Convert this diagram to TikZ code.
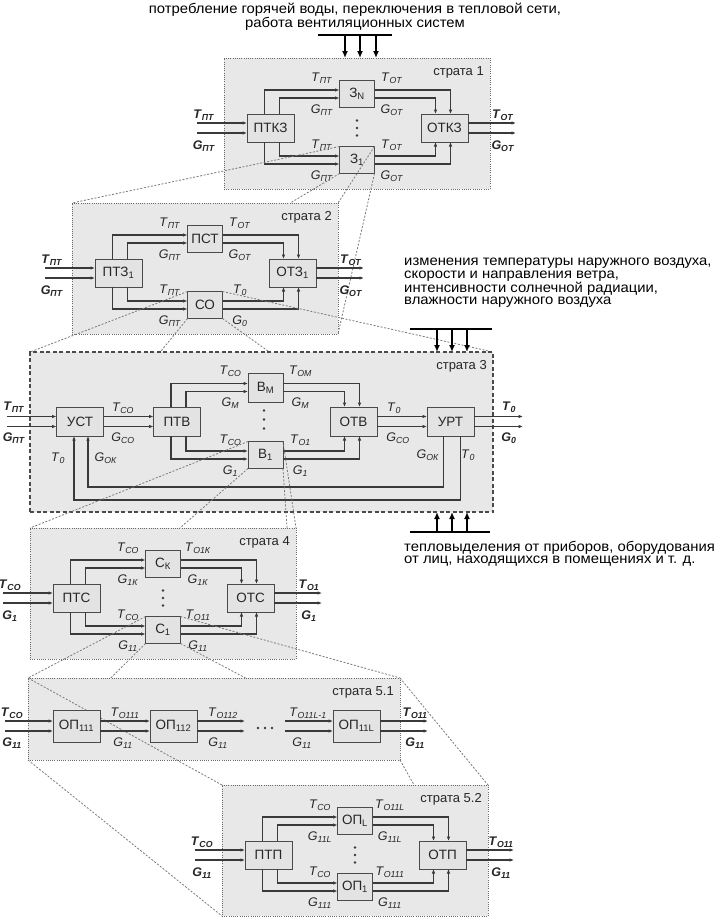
\documentclass[tikz,border=0pt]{standalone}
\usepackage{fontspec}
\setmainfont{Liberation Sans}
\newfontfamily\capfont{Liberation Sans}[FakeStretch=1.06]
\usetikzlibrary{arrows.meta,calc}
\definecolor{sfill}{HTML}{E8E8E8}
\definecolor{bfill}{HTML}{E3E3E3}
\definecolor{bdraw}{HTML}{4A4A4A}
\definecolor{ccol}{HTML}{3A3A3A}
\definecolor{tcol}{HTML}{262626}
\definecolor{zcol}{HTML}{7A7A7A}
\definecolor{scol}{HTML}{6A6A6A}
\newcommand\lT[1]{\textit{T}\textsubscript{\textit{#1}}}
\newcommand\lG[1]{\textit{G}\textsubscript{\textit{#1}}}
\newcommand\bT[1]{\textbf{\textit{T}\textsubscript{\textit{#1}}}}
\newcommand\bG[1]{\textbf{\textit{G}\textsubscript{\textit{#1}}}}
\tikzset{
 stratbox/.style={draw=scol, fill=sfill, line width=0.9pt, dash pattern=on 1pt off 1.2pt, anchor=north west, inner sep=0pt, outer sep=0pt, minimum width=266pt, minimum height=131pt},
 blk/.style={draw=bdraw, fill=bfill, line width=0.9pt, minimum width=47pt, minimum height=28pt, inner sep=0pt, outer sep=0pt, text=tcol, font=\fontsize{13.5}{14}\selectfont},
 sblk/.style={blk, minimum width=35pt, minimum height=27pt},
 conn/.style={draw=ccol, line width=1.1pt},
 arr/.style={conn, -{Latex[length=4.5pt,width=3.6pt]}},
 lab/.style={font=\fontsize{12.5}{13}\selectfont, text=tcol, inner sep=0pt},
 ttl/.style={font=\fontsize{13}{14}\selectfont, text=tcol, inner sep=0pt, anchor=east},
 zl/.style={draw=zcol, line width=0.8pt, dash pattern=on 2pt off 1.6pt},
 bar/.style={draw=black, line width=1.5pt},
 dist/.style={draw=black, line width=1.4pt, -{Latex[length=7pt,width=6pt]}},
 captxt/.style={font=\capfont\fontsize{14}{12.3}\selectfont, text=black, inner sep=0pt},
}
\newcommand\parconn[4]{%
 \draw[arr] ([xshift=-6pt]#1.north) |- ([yshift=4pt]#2.west);
 \draw[arr] ([xshift=9pt]#1.north) |- ([yshift=-4pt]#2.west);
 \draw[arr] ([xshift=9pt]#1.south) |- ([yshift=4pt]#3.west);
 \draw[arr] ([xshift=-6pt]#1.south) |- ([yshift=-4pt]#3.west);
 \draw[arr] ([yshift=4pt]#2.east) -| ([xshift=6pt]#4.north);
 \draw[arr] ([yshift=-4pt]#2.east) -| ([xshift=-9pt]#4.north);
 \draw[arr] ([yshift=4pt]#3.east) -| ([xshift=-9pt]#4.south);
 \draw[arr] ([yshift=-4pt]#3.east) -| ([xshift=6pt]#4.south);
}
\newcommand\pstrat[7]{%
 \begin{scope}[shift={#2}]
 \node[stratbox] (#1) at (0,0) {};
 \node[ttl] (#1t) at (260,14) {#7};
 \node[blk] (#1in) at (46.5,70) {#3};
 \node[blk] (#1out) at (220.5,70) {#6};
 \node[sblk] (#1a) at (133,36) {#4};
 \node[sblk] (#1b) at (133,102) {#5};
 \coordinate (#1iT) at (-27,65);
 \coordinate (#1iG) at (-27,75);
 \coordinate (#1oT) at (292,65);
 \coordinate (#1oG) at (292,75);
 \end{scope}
 \parconn{#1in}{#1a}{#1b}{#1out}
 \draw[arr] (#1iT) -- (#1iT -| #1in.west);
 \draw[arr] (#1iG) -- (#1iG -| #1in.west);
 \draw[arr] (#1oT -| #1out.east) -- (#1oT);
 \draw[arr] (#1oG -| #1out.east) -- (#1oG);
}
\newcommand\plabs[9]{%
 \node[lab] (#1l1) at ([shift={(-35,-16)}]#1a.center) {#2};
 \node[lab] (#1l2) at ([shift={(35,-16)}]#1a.center) {#3};
 \node[lab] (#1l3) at ([shift={(-35,16)}]#1a.center) {#4};
 \node[lab] (#1l4) at ([shift={(35,16)}]#1a.center) {#5};
 \node[lab] (#1l5) at ([shift={(-35,-15)}]#1b.center) {#6};
 \node[lab] (#1l6) at ([shift={(35,-15)}]#1b.center) {#7};
 \node[lab] (#1l7) at ([shift={(-35,16)}]#1b.center) {#8};
 \node[lab] (#1l8) at ([shift={(35,16)}]#1b.center) {#9};
}
\newcommand\pext[5]{%
 \node[lab] (#1eT) at ([shift={(7,-8)}]#1iT) {#2};
 \node[lab] (#1eG) at ([shift={(7,13)}]#1iG) {#3};
 \node[lab] (#1fT) at ([shift={(-13,-8)}]#1oT) {#4};
 \node[lab] (#1fG) at ([shift={(-13,13)}]#1oG) {#5};
}
\newcommand\vdts[1]{\foreach \vv in {-7.5,0,7.5} \fill[ccol] ([shift={(133,70+\vv)}]#1.north west) circle (1.3pt);}
\newcommand\zlines[2]{%
 \draw[zl] (#1.north west) -- (#2nw);
 \draw[zl] (#1.north east) -- (#2ne);
 \draw[zl] (#1.south west) -- (#2sw);
 \draw[zl] (#1.south east) -- (#2se);
}
\begin{document}
\begin{tikzpicture}[x=1pt,y=-1pt]
\useasboundingbox (0,0) rectangle (717,918);
\fill[white] (0,0) rectangle (717,918);
% stratum corners
\coordinate (z2nw) at (72,203); \coordinate (z2ne) at (338,203);
\coordinate (z2sw) at (72,334); \coordinate (z2se) at (338,334);
\coordinate (z3nw) at (30,352); \coordinate (z3ne) at (493,352);
\coordinate (z3sw) at (30,512); \coordinate (z3se) at (493,512);
\coordinate (z4nw) at (30,528); \coordinate (z4ne) at (296,528);
\coordinate (z4sw) at (30,659); \coordinate (z4se) at (296,659);
\coordinate (z5nw) at (28,678); \coordinate (z5ne) at (400,678);
\coordinate (z5sw) at (28,760); \coordinate (z5se) at (400,760);
\coordinate (z6nw) at (222,785); \coordinate (z6ne) at (488,785);
\coordinate (z6sw) at (222,916); \coordinate (z6se) at (488,916);

% top caption
\node[captxt, align=center] (captop) at (355,17) {потребление горячей воды, переключения в тепловой сети,\\работа вентиляционных систем};

% ---------- stratum 1
\pstrat{s1}{(224,58)}{ПТКЗ}{З\textsubscript{N}}{З\textsubscript{1}}{ОТКЗ}{страта 1}
\plabs{s1}{\lT{ПТ}}{\lT{ОТ}}{\lG{ПТ}}{\lG{ОТ}}{\lT{ПТ}}{\lT{ОТ}}{\lG{ПТ}}{\lG{ОТ}}
\pext{s1}{\bT{ПТ}}{\bG{ПТ}}{\bT{ОТ}}{\bG{ОТ}}
\vdts{s1}
\coordinate (d1l) at (318,35); \coordinate (d1r) at (392,35);
\draw[bar] (d1l) -- (d1r);
\foreach \xx/\nn in {345/a,360/b,376/c} {\coordinate (d1\nn) at (\xx,35); \draw[dist] (d1\nn) -- (d1\nn |- s1.north);}
\zlines{s1b}{z2}

% ---------- stratum 2
\pstrat{s2}{(72,203)}{ПТЗ\textsubscript{1}}{ПСТ}{СО}{ОТЗ\textsubscript{1}}{страта 2}
\plabs{s2}{\lT{ПТ}}{\lT{ОТ}}{\lG{ПТ}}{\lG{ОТ}}{\lT{ПТ}}{\lT{0}}{\lG{ПТ}}{\lG{0}}
\pext{s2}{\bT{ПТ}}{\bG{ПТ}}{\bT{ОТ}}{\bG{ОТ}}
\zlines{s2b}{z3}

% ---------- stratum 3
\node[stratbox, draw=bdraw, line width=1.1pt, dash pattern=on 4pt off 2.5pt, minimum width=463pt, minimum height=160pt] (s3) at (30,352) {};
\node[ttl] (s3t) at (487,366) {страта 3};
\node[blk, minimum height=29pt] (s3u) at (80,421.5) {УСТ};
\node[blk, minimum height=29pt] (s3in) at (177,421.5) {ПТВ};
\node[blk, minimum height=29pt] (s3out) at (353.5,421.5) {ОТВ};
\node[blk, minimum height=29pt] (s3r) at (450.5,421.5) {УРТ};
\node[sblk, minimum height=29pt] (s3a) at (265.5,387.5) {В\textsubscript{М}};
\node[sblk] (s3b) at (265.5,455) {В\textsubscript{1}};
\parconn{s3in}{s3a}{s3b}{s3out}
\coordinate (s3iT) at (7,416.5); \coordinate (s3iG) at (7,426.5);
\coordinate (s3oT) at (523,416.5); \coordinate (s3oG) at (523,426.5);
\draw[arr] (s3iT) -- (s3iT -| s3u.west);
\draw[arr] (s3iG) -- (s3iG -| s3u.west);
\draw[arr] (s3iT -| s3u.east) -- (s3iT -| s3in.west);
\draw[arr] (s3iG -| s3u.east) -- (s3iG -| s3in.west);
\draw[arr] (s3iT -| s3out.east) -- (s3iT -| s3r.west);
\draw[arr] (s3iG -| s3out.east) -- (s3iG -| s3r.west);
\draw[arr] (s3oT -| s3r.east) -- (s3oT);
\draw[arr] (s3oG -| s3r.east) -- (s3oG);
\draw[arr] ([xshift=-7pt]s3r.south) -- ++(0,51) -| ([xshift=8pt]s3u.south);
\draw[arr] ([xshift=10pt]s3r.south) -- ++(0,64) -| ([xshift=-6pt]s3u.south);
\plabs{s3}{\lT{СО}}{\lT{ОМ}}{\lG{М}}{\lG{М}}{\lT{СО}}{\lT{О1}}{\lG{1}}{\lG{1}}
\foreach \vv in {-9,0,9} \fill[ccol] (264,419.5+\vv) circle (1.3pt);
\node[lab] (s3eT) at (14,407) {\bT{ПТ}};
\node[lab] (s3eG) at (14,438) {\bG{ПТ}};
\node[lab] (s3m1) at (123,408) {\lT{СО}};
\node[lab] (s3m2) at (123,438) {\lG{СО}};
\node[lab] (s3m3) at (394,408) {\lT{0}};
\node[lab] (s3m4) at (398,438) {\lG{СО}};
\node[lab] (s3fT) at (509,407) {\bT{0}};
\node[lab] (s3fG) at (509,438) {\bG{0}};
\node[lab] (s3k1) at (58,458) {\lT{0}};
\node[lab] (s3k2) at (106,458) {\lG{ОК}};
\node[lab] (s3k3) at (428,455) {\lG{ОК}};
\node[lab] (s3k4) at (468,455) {\lT{0}};
% disturbances right
\node[captxt, align=left, anchor=north west] (capm) at (404,258) {изменения температуры наружного воздуха,\\скорости и направления ветра,\\интенсивности солнечной радиации,\\влажности наружного воздуха};
\coordinate (d2l) at (410,329); \coordinate (d2r) at (492,329);
\draw[bar] (d2l) -- (d2r);
\foreach \xx/\nn in {437/a,452/b,467/c} {\coordinate (d2\nn) at (\xx,329); \draw[dist] (d2\nn) -- (d2\nn |- s3.north);}
\node[captxt, align=left, anchor=north west] (capb) at (404,541) {тепловыделения от приборов, оборудования\\от лиц, находящихся в помещениях и т. д.};
\coordinate (d3l) at (410,532); \coordinate (d3r) at (490,532);
\draw[bar] (d3l) -- (d3r);
\foreach \xx/\nn in {437/a,452/b,467/c} {\coordinate (d3\nn) at (\xx,532); \draw[dist] (d3\nn) -- (d3\nn |- s3.south);}
\zlines{s3b}{z4}

% ---------- stratum 4
\pstrat{s4}{(30,528)}{ПТС}{С\textsubscript{К}}{С\textsubscript{1}}{ОТС}{страта 4}
\plabs{s4}{\lT{СО}}{\lT{О1К}}{\lG{1К}}{\lG{1К}}{\lT{СО}}{\lT{О11}}{\lG{11}}{\lG{11}}
\pext{s4}{\bT{СО}}{\bG{1}}{\bT{О1}}{\bG{1}}
\vdts{s4}
\zlines{s4b}{z5}

% ---------- stratum 5.1
\node[stratbox, minimum width=372pt, minimum height=82pt] (s51) at (28,678) {};
\zlines{s51}{z6}
\node[ttl] (s51t) at (394,692) {страта 5.1};
\node[blk, minimum height=32pt] (p1) at (76.5,726) {ОП\textsubscript{111}};
\node[blk, minimum height=32pt] (p2) at (173.5,726) {ОП\textsubscript{112}};
\node[blk, minimum height=32pt] (pL) at (356.5,726) {ОП\textsubscript{11L}};
\coordinate (q0T) at (5,721); \coordinate (q0G) at (5,731);
\coordinate (q2T) at (245,721); \coordinate (q2G) at (245,731);
\coordinate (q3T) at (285,721); \coordinate (q3G) at (285,731);
\coordinate (q4T) at (428,721); \coordinate (q4G) at (428,731);
\draw[arr] (q0T) -- (q0T -| p1.west);
\draw[arr] (q0G) -- (q0G -| p1.west);
\draw[arr] (q0T -| p1.east) -- (q0T -| p2.west);
\draw[arr] (q0G -| p1.east) -- (q0G -| p2.west);
\draw[arr] (q2T -| p2.east) -- (q2T);
\draw[arr] (q2G -| p2.east) -- (q2G);
\draw[arr] (q3T) -- (q3T -| pL.west);
\draw[arr] (q3G) -- (q3G -| pL.west);
\draw[arr] (q4T -| pL.east) -- (q4T);
\draw[arr] (q4G -| pL.east) -- (q4G);
\foreach \xx in {258,265,272} \fill[ccol] (\xx,728) circle (1.3pt);
\node[lab] (r1) at (12,713) {\bT{СО}};
\node[lab] (r2) at (12,743) {\bG{11}};
\node[lab] (r3) at (125,713) {\lT{О111}};
\node[lab] (r4) at (123,743) {\lG{11}};
\node[lab] (r5) at (223,713) {\lT{О112}};
\node[lab] (r6) at (218,743) {\lG{11}};
\node[lab] (r7) at (308,713) {\lT{О11L-1}};
\node[lab] (r8) at (302,743) {\lG{11}};
\node[lab] (r9) at (415,713) {\bT{О11}};
\node[lab] (r10) at (415,743) {\bG{11}};

% ---------- stratum 5.2
\pstrat{s52}{(222,785)}{ПТП}{ОП\textsubscript{L}}{ОП\textsubscript{1}}{ОТП}{страта 5.2}
\plabs{s52}{\lT{СО}}{\lT{О11L}}{\lG{11L}}{\lG{11L}}{\lT{СО}}{\lT{О111}}{\lG{111}}{\lG{111}}
\pext{s52}{\bT{СО}}{\bG{11}}{\bT{О11}}{\bG{11}}
\vdts{s52}
\end{tikzpicture}
\end{document}
